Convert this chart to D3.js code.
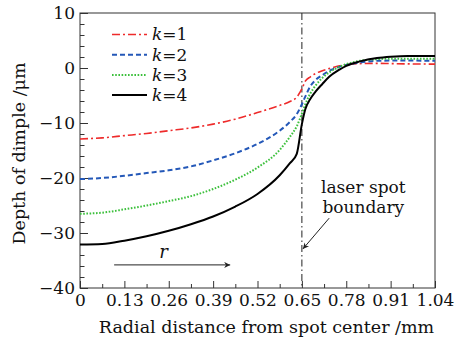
<!DOCTYPE html>
<html>
<head>
<meta charset="utf-8">
<script src="https://cdn.jsdelivr.net/npm/d3@7"></script>
<style>
  body { margin: 0; background: #fff; }
  text { font-family: "DejaVu Serif", serif; fill: #111; }
</style>
</head>
<body>
<div id="container"></div>
<script>
// size of the picture
const w = 459
const h = 338
const margin = { top: 13, right: 24, bottom: 50, left: 80 }

// radial distance (mm), shared by all four curves
const radius = [0, 0.065, 0.13, 0.195, 0.26, 0.325, 0.39, 0.455, 0.52, 0.585, 0.615, 0.635,
  0.65, 0.66, 0.675, 0.69, 0.71, 0.73, 0.76, 0.78, 0.82, 0.87, 0.91, 0.96, 1.04]

// depth of dimple (um) for each k
const depthK1 = [-12.9, -12.7, -12.3, -11.9, -11.4, -10.9, -10.2, -9.3, -8.1, -6.8, -6.1, -5.3,
  -3.8, -2.4, -1.6, -1.0, -0.5, -0.1, 0.4, 0.6, 0.8, 0.85, 0.8, 0.75, 0.7]
const depthK2 = [-20.2, -20.0, -19.6, -19.1, -18.6, -17.9, -16.8, -15.5, -13.8, -11.4, -9.8, -8.4,
  -6.6, -5.2, -3.3, -2.2, -1.3, -0.5, 0.2, 0.55, 1.0, 1.3, 1.35, 1.35, 1.3]
const depthK3 = [-26.5, -26.3, -25.7, -25.0, -24.2, -23.3, -22.0, -20.3, -18.1, -14.9, -12.5, -10.6,
  -8.3, -6.6, -4.6, -3.2, -1.8, -0.8, 0.2, 0.7, 1.3, 1.6, 1.7, 1.7, 1.7]
const depthK4 = [-32.1, -32.0, -31.4, -30.6, -29.6, -28.4, -27.0, -25.2, -22.9, -19.5, -17.3, -15.6,
  -10.2, -7.5, -5.6, -4.3, -2.9, -1.6, -0.3, 0.4, 1.2, 1.8, 2.05, 2.2, 2.2]

const seriesNames = ['k=1', 'k=2', 'k=3', 'k=4']
const seriesColors = ['#ee2b2b', '#2458b8', '#3cc03c', '#000000']
const seriesDash = ['8,3,2,3', '5,3', '1.6,1.6', null]
const seriesWidth = [1.6, 2, 2, 2]

// tick labels
const xTicks = [0, 0.13, 0.26, 0.39, 0.52, 0.65, 0.78, 0.91, 1.04]
const yTicks = [-40, -30, -20, -10, 0, 10]
const boundary = 0.65

const series = [depthK1, depthK2, depthK3, depthK4].map(function(vals, i) {
  return { name: seriesNames[i], values: vals.map(function(v, j) { return [radius[j], v] }) }
})

const iw = w - margin.left - margin.right
const ih = h - margin.top - margin.bottom

const x = d3.scaleLinear().domain([0, 1.04]).range([0, iw])
const y = d3.scaleLinear().domain([-40, 10]).range([ih, 0])

const svg = d3.select('#container')
    .append('svg')
    .attr('width', w)
    .attr('height', h)

const g = svg.append('g')
    .attr('transform', 'translate(' + margin.left + ',' + margin.top + ')')

// minor ticks, every 0.065 mm and every 2 um
const xMinor = xTicks.slice(1).map(function(t, i) { return (t + xTicks[i]) / 2 })
const yMinor = d3.range(-40, 10.01, 2).filter(function(v) { return v % 10 !== 0 })

g.append('g')
    .attr('transform', 'translate(0,' + ih + ')')
    .call(d3.axisBottom(x).tickValues(xMinor).tickSize(-4).tickFormat(''))
g.append('g')
    .attr('class', 'xaxis')
    .attr('transform', 'translate(0,' + ih + ')')
    .call(d3.axisBottom(x).tickValues(xTicks).tickSize(-7).tickPadding(6)
      .tickFormat(function(d) { return d === 0 ? '0' : d3.format('.2f')(d) }))
g.append('g')
    .call(d3.axisLeft(y).tickValues(yMinor).tickSize(-4.5).tickFormat(''))
g.append('g')
    .attr('class', 'yaxis')
    .call(d3.axisLeft(y).tickValues(yTicks).tickSize(-8).tickPadding(5))

g.selectAll('.domain').remove()
g.selectAll('.tick line').attr('stroke', '#333')
g.selectAll('.tick text').style('font-family', '"DejaVu Serif", serif').style('font-size', '17px').attr('fill', '#111')

// frame
g.append('rect')
    .attr('width', iw)
    .attr('height', ih)
    .attr('fill', 'none')
    .attr('stroke', '#333')
    .attr('stroke-width', 1)

// laser spot boundary
g.append('line')
    .attr('x1', x(boundary)).attr('x2', x(boundary))
    .attr('y1', 0).attr('y2', ih)
    .attr('stroke', '#222')
    .attr('stroke-width', 1)
    .attr('stroke-dasharray', '7,3,1.5,3')

// curves
const line = d3.line()
    .x(function(d) { return x(d[0]) })
    .y(function(d) { return y(d[1]) })
    .curve(d3.curveMonotoneX)

g.selectAll('path.curve')
    .data(series)
    .enter()
    .append('path')
    .attr('class', 'curve')
    .attr('fill', 'none')
    .attr('stroke', function(d, i) { return seriesColors[i] })
    .attr('stroke-width', function(d, i) { return seriesWidth[i] })
    .attr('stroke-dasharray', function(d, i) { return seriesDash[i] })
    .attr('d', function(d) { return line(d.values) })

// legend
const legend = g.selectAll('g.legend')
    .data(series)
    .enter()
    .append('g')
    .attr('class', 'legend')
    .attr('transform', function(d, i) { return 'translate(32,' + (21.5 + i * 20.2) + ')' })

legend.append('line')
    .attr('x1', 0).attr('x2', 35)
    .attr('stroke', function(d, i) { return seriesColors[i] })
    .attr('stroke-width', function(d, i) { return seriesWidth[i] })
    .attr('stroke-dasharray', function(d, i) { return seriesDash[i] })

const legendText = legend.append('text')
    .attr('x', 40)
    .attr('dy', '0.35em')
    .style('font-size', '17px')
legendText.append('tspan').style('font-style', 'italic').text('k')
legendText.append('tspan').text(function(d) { return d.name.slice(1) })

// arrow markers
const defs = svg.append('defs')
defs.append('marker')
    .attr('id', 'head')
    .attr('viewBox', '0 0 10 10')
    .attr('refX', 10).attr('refY', 5)
    .attr('markerWidth', 9).attr('markerHeight', 6)
    .attr('markerUnits', 'userSpaceOnUse')
    .attr('orient', 'auto')
    .append('path')
    .attr('d', 'M0,0 L10,5 L0,10 L3,5 Z')
    .attr('fill', '#222')

// r arrow
g.append('line')
    .attr('x1', x(0.1)).attr('x2', x(0.44))
    .attr('y1', y(-35.8)).attr('y2', y(-35.8))
    .attr('stroke', '#222')
    .attr('stroke-width', 1)
    .attr('marker-end', 'url(#head)')
g.append('text')
    .attr('x', x(0.245))
    .attr('y', y(-34.6))
    .attr('text-anchor', 'middle')
    .style('font-size', '18px')
    .style('font-style', 'italic')
    .text('r')

// annotation
g.append('text')
    .attr('x', x(0.83))
    .attr('y', y(-22.7))
    .attr('text-anchor', 'middle')
    .style('font-size', '17px')
    .text('laser spot')
g.append('text')
    .attr('x', x(0.83))
    .attr('y', y(-26.4))
    .attr('text-anchor', 'middle')
    .style('font-size', '17px')
    .text('boundary')
g.append('line')
    .attr('x1', x(0.73)).attr('y1', y(-27.3))
    .attr('x2', x(0.653)).attr('y2', y(-32.9))
    .attr('stroke', '#222')
    .attr('stroke-width', 1)
    .attr('marker-end', 'url(#head)')

// axis titles
svg.append('text')
    .attr('x', margin.left + iw / 2 + 9)
    .attr('y', 333)
    .attr('text-anchor', 'middle')
    .style('font-size', '17.5px')
    .text('Radial distance from spot center /mm')

svg.append('text')
    .attr('transform', 'translate(25,' + (margin.top + ih / 2 + 3) + ') rotate(-90)')
    .attr('text-anchor', 'middle')
    .style('font-size', '17.5px')
    .text('Depth of dimple /μm')
</script>
</body>
</html>
